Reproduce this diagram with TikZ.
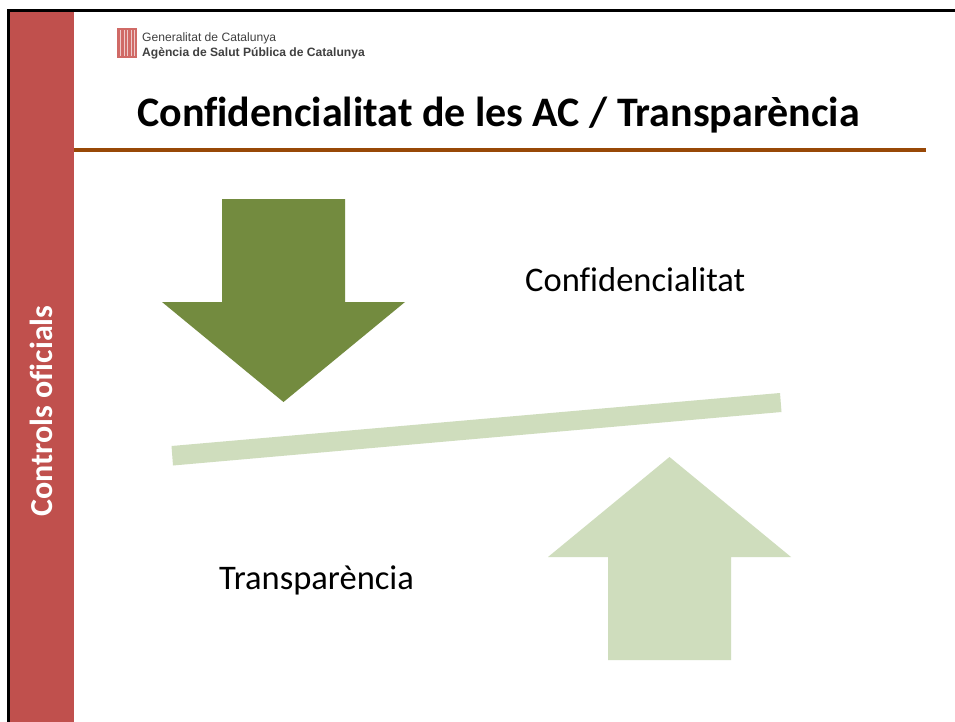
\documentclass[tikz,border=0pt]{standalone}
\usepackage{fontspec}
\setmainfont[Ligatures=CommonOff]{Carlito}
\newfontfamily\logofont{Liberation Sans}
\definecolor{sidered}{HTML}{C0504D}
\definecolor{rulebrown}{HTML}{984807}
\definecolor{darkgreen}{HTML}{738B3F}
\definecolor{lightgreen}{HTML}{CFDDBD}
\definecolor{logored}{HTML}{C8504B}
\tikzset{
  lbl/.style={inner sep=0pt,anchor=base west,text=black},
  bodytext/.style={lbl,font=\fontsize{34.5}{40}\selectfont},
  logotext/.style={lbl,text=black!75},
}
\begin{document}
\begin{tikzpicture}[x=1pt,y=-1pt]
\useasboundingbox (0,0) rectangle (955,722);
\fill[white] (0,0) rectangle (955,722);
% frame
\fill[black] (7,9) rectangle (955,11.7);
\fill[black] (7,9) rectangle (10,722);
\fill[sidered] (10,11.7) rectangle (74,722);
% rule
\fill[rulebrown] (74,148) rectangle (926,152);
% logo
\fill[logored!85] (117,28) rectangle (137,58);
\foreach \x in {120,123.5,127,130.5,134}{\fill[white!70!logored] (\x,30) rectangle (\x+1.2,56);}
\node[logotext,font=\logofont\fontsize{12.1}{15}\selectfont] (logoa) at (142,42) {Generalitat de Catalunya};
\node[logotext,font=\logofont\bfseries\fontsize{12.1}{15}\selectfont] (logob) at (142,57) {Agència de Salut Pública de Catalunya};
% title
\node[lbl,font=\bfseries\fontsize{42}{48}\selectfont] (title) at (137,127) {Confidencialitat de les AC / Transparència};
% side label
\node[inner sep=0pt,anchor=base,rotate=90,text=white,font=\bfseries\fontsize{32}{36}\selectfont] (side) at (52,411) {Controls oficials};
% arrows
\fill[darkgreen] (222,199) -- (345,199) -- (345,302) -- (405,302) -- (283.5,402) -- (162,302) -- (222,302) -- cycle;
\fill[lightgreen] (608,660) -- (731,660) -- (731,557) -- (791,557) -- (669.5,457) -- (548,557) -- (608,557) -- cycle;
% beam
\fill[lightgreen] (171.5,446) -- (780,393) -- (781.5,412) -- (173,465.5) -- cycle;
% texts
\node[bodytext] (conf) at (525,291) {Confidencialitat};
\node[bodytext] (trans) at (219,589) {Transparència};
\end{tikzpicture}
\end{document}
